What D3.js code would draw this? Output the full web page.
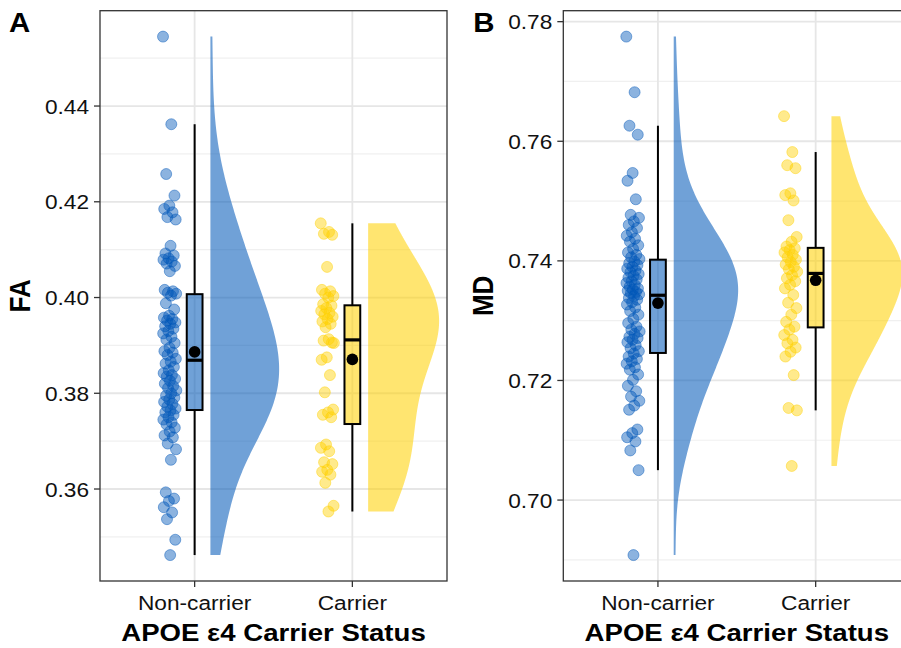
<!DOCTYPE html>
<html>
<head>
<meta charset="utf-8">
<script src="https://cdn.jsdelivr.net/npm/d3@7"></script>
<style>
  body { margin: 0; background: #fff; }
  text { font-family: "Liberation Sans", Arial, sans-serif; }
</style>
</head>
<body>
<div id="chart"></div>
<script>
// categories on the x axis
const groups = ["Non-carrier", "Carrier"];

// FA values per subject
const faNonCarrier = [
  0.4545, 0.4362, 0.4258, 0.4213, 0.4192, 0.4185, 0.4178, 0.4168, 0.4163, 0.4108,
  0.4092, 0.4088, 0.4082, 0.4079, 0.4075, 0.4071, 0.4066, 0.4055, 0.4016, 0.4013,
  0.4010, 0.4008, 0.4004,
  0.3988, 0.3975, 0.3962, 0.3958, 0.3955, 0.3952, 0.3948, 0.3945, 0.3940, 0.3935,
  0.3930, 0.3925, 0.3918, 0.3912, 0.3905,
  0.3895, 0.3888, 0.3885, 0.3880, 0.3872, 0.3866, 0.3862, 0.3855, 0.3848, 0.3842,
  0.3838, 0.3835, 0.3830, 0.3826, 0.3820, 0.3815, 0.3811, 0.3806, 0.3800,
  0.3795, 0.3791, 0.3787, 0.3782, 0.3778, 0.3772, 0.3768, 0.3764, 0.3760, 0.3755,
  0.3750, 0.3745, 0.3739, 0.3735, 0.3728, 0.3720, 0.3712, 0.3708, 0.3695, 0.3683,
  0.3661,
  0.3593, 0.3580, 0.3575, 0.3562, 0.3551, 0.3537, 0.3494, 0.3462
];
const faCarrier = [
  0.4155, 0.4137, 0.4133, 0.4131, 0.4064, 0.4016, 0.4013, 0.4008, 0.4003, 0.4000,
  0.3986, 0.3983, 0.3978, 0.3972, 0.3968, 0.3965, 0.3960, 0.3955, 0.3950, 0.3945,
  0.3938, 0.3905,
  0.3913, 0.3910, 0.3906, 0.3875, 0.3870, 0.3838, 0.3802, 0.3766, 0.3760, 0.3755,
  0.3750,
  0.3693, 0.3686, 0.3679, 0.3656, 0.3652, 0.3640, 0.3636, 0.3630, 0.3613, 0.3565,
  0.3553
];

// MD values per subject
const mdNonCarrier = [
  0.7775, 0.7682, 0.7626, 0.7611, 0.7547, 0.7534, 0.7503, 0.7477, 0.7472, 0.7466,
  0.7460, 0.7455, 0.7448, 0.7442, 0.7437, 0.7432, 0.7426, 0.7420, 0.7414, 0.7410,
  0.7406, 0.7403,
  0.7399, 0.7396, 0.7393, 0.7390, 0.7387, 0.7384, 0.7381, 0.7378, 0.7375, 0.7372,
  0.7369, 0.7366, 0.7363, 0.7360, 0.7357, 0.7354, 0.7352, 0.7350, 0.7348, 0.7346,
  0.7344,
  0.7341, 0.7338, 0.7335, 0.7331, 0.7327, 0.7322, 0.7316, 0.7310, 0.7303, 0.7296,
  0.7290, 0.7285, 0.7282, 0.7278, 0.7273, 0.7271, 0.7268, 0.7264, 0.7259, 0.7254,
  0.7249,
  0.7245, 0.7240, 0.7236, 0.7232, 0.7228, 0.7222, 0.7218, 0.7210, 0.7201, 0.7191,
  0.7182, 0.7173, 0.7166, 0.7158, 0.7151, 0.7118, 0.7112, 0.7105, 0.7098, 0.7083,
  0.7050, 0.6908
];
const mdCarrier = [
  0.7642, 0.7582, 0.7560, 0.7555, 0.7513, 0.7510, 0.7501, 0.7468, 0.7440, 0.7432,
  0.7424,
  0.7421, 0.7418, 0.7414, 0.7410, 0.7406, 0.7402, 0.7398, 0.7394, 0.7390, 0.7386,
  0.7382,
  0.7376, 0.7371, 0.7366, 0.7360, 0.7354, 0.7343, 0.7330, 0.7321, 0.7310, 0.7298,
  0.7290,
  0.7285, 0.7276, 0.7268, 0.7262, 0.7255, 0.7248, 0.7240, 0.7209, 0.7154, 0.7150,
  0.7057
];

const faTicks = [0.36, 0.38, 0.40, 0.42, 0.44];
const mdTicks = [0.70, 0.72, 0.74, 0.76, 0.78];

const colors = ["#0057B8", "#FFD100"];

const width = 901, height = 648;
const svg = d3.select("#chart").append("svg").attr("width", width).attr("height", height);

// text helper: x-stretch to mimic the wider font of the original
function addText(g, x, y, str, size, opts = {}) {
  const sx = opts.sx || 1, sy = opts.sy || 1;
  const rot = opts.rotate ? ` rotate(${opts.rotate})` : "";
  return g.append("text")
    .attr("transform", `translate(${x},${y})${rot} scale(${sx},${sy})`)
    .attr("font-size", size)
    .attr("font-weight", opts.bold ? "bold" : "normal")
    .attr("text-anchor", opts.anchor || "start")
    .attr("fill", opts.fill || "#000")
    .text(str);
}

// gaussian kde, bw.nrd0 * adjust like R, trimmed to data range
function kde(values, adjust = 1.5) {
  const n = values.length;
  const sorted = values.slice().sort(d3.ascending);
  const sd = d3.deviation(sorted);
  const iqr = d3.quantile(sorted, 0.75) - d3.quantile(sorted, 0.25);
  const bw = adjust * 0.9 * Math.min(sd, iqr / 1.34) * Math.pow(n, -0.2);
  const lo = sorted[0], hi = sorted[n - 1];
  const out = [];
  for (let k = 0; k < 512; k++) {
    const v = lo + (hi - lo) * k / 511;
    let s = 0;
    for (const xi of sorted) {
      const z = (v - xi) / bw;
      s += Math.exp(-0.5 * z * z);
    }
    out.push({ v, dens: s / (n * bw * Math.sqrt(2 * Math.PI)) });
  }
  return out;
}

function drawPanel(cfg) {
  const g = svg.append("g").attr("transform", `translate(${cfg.left}, ${cfg.top})`);
  const w = 347, h = 570.3;

  const all = cfg.series.flat();
  const [mn, mx] = d3.extent(all);
  const pad = (mx - mn) * 0.05;
  const y = d3.scaleLinear().domain([mn - pad, mx + pad]).range([h, 0]);
  const x = d3.scaleLinear().domain([0.4, 2.6]).range([0, w]);

  // minor grid
  const minor = cfg.ticks.map(t => t - 0.01).concat([cfg.ticks[cfg.ticks.length - 1] + 0.01])
    .filter(t => t > y.domain()[0] && t < y.domain()[1]);
  g.selectAll(".minor").data(minor).enter().append("line")
    .attr("x1", 0).attr("x2", w)
    .attr("y1", d => y(d)).attr("y2", d => y(d))
    .attr("stroke", "#F0F0F0").attr("stroke-width", 1.2);
  // major grid
  g.selectAll(".major").data(cfg.ticks).enter().append("line")
    .attr("x1", 0).attr("x2", w)
    .attr("y1", d => y(d)).attr("y2", d => y(d))
    .attr("stroke", "#E6E6E6").attr("stroke-width", 1.8);
  g.selectAll(".vmajor").data(groups).enter().append("line")
    .attr("x1", (d, i) => x(i + 1)).attr("x2", (d, i) => x(i + 1))
    .attr("y1", 0).attr("y2", h)
    .attr("stroke", "#E6E6E6").attr("stroke-width", 1.8);

  // half violins, area scaling across the panel
  const dens = cfg.series.map(v => kde(v));
  const maxD = d3.max(dens.flat(), d => d.dens);
  dens.forEach((dd, i) => {
    const base = i + 1 + 0.1;
    const area = d3.area()
      .y(d => y(d.v))
      .x0(x(base))
      .x1(d => x(base + 0.45 * d.dens / maxD));
    g.append("path").datum(dd)
      .attr("d", area)
      .attr("fill", colors[i]).attr("fill-opacity", 0.56);
  });

  // jittered points
  cfg.series.forEach((vals, i) => {
    g.selectAll(null).data(vals).enter().append("circle")
      .attr("cx", (d, k) => x(i + 1 - 0.158 + (((k * 0.618034) % 1) - 0.5) * 0.085))
      .attr("cy", d => y(d))
      .attr("r", 5.5)
      .attr("fill", colors[i]).attr("fill-opacity", 0.45)
      .attr("stroke", colors[i]).attr("stroke-opacity", 0.45).attr("stroke-width", 1);
  });

  // boxplots
  cfg.series.forEach((vals, i) => {
    const s = vals.slice().sort(d3.ascending);
    const q1 = d3.quantile(s, 0.25), med = d3.quantile(s, 0.5), q3 = d3.quantile(s, 0.75);
    const iqr = q3 - q1;
    const lowW = d3.min(s.filter(v => v >= q1 - 1.5 * iqr));
    const highW = d3.max(s.filter(v => v <= q3 + 1.5 * iqr));
    const cx = x(i + 1), bw = x(1.05) - x(0.95);
    g.append("line").attr("x1", cx).attr("x2", cx).attr("y1", y(highW)).attr("y2", y(q3))
      .attr("stroke", "#000").attr("stroke-width", 2);
    g.append("line").attr("x1", cx).attr("x2", cx).attr("y1", y(q1)).attr("y2", y(lowW))
      .attr("stroke", "#000").attr("stroke-width", 2);
    g.append("rect").attr("x", cx - bw / 2).attr("width", bw)
      .attr("y", y(q3)).attr("height", y(q1) - y(q3))
      .attr("fill", colors[i]).attr("fill-opacity", 0.56)
      .attr("stroke", "#000").attr("stroke-width", 2);
    g.append("line").attr("x1", cx - bw / 2).attr("x2", cx + bw / 2)
      .attr("y1", y(med)).attr("y2", y(med))
      .attr("stroke", "#000").attr("stroke-width", 3.2);
    g.append("circle").attr("cx", cx).attr("cy", y(d3.mean(vals))).attr("r", 5.8).attr("fill", "#000");
  });

  // panel border
  g.append("rect").attr("x", 0).attr("y", 0).attr("width", w).attr("height", h)
    .attr("fill", "none").attr("stroke", "#333").attr("stroke-width", 1.3);

  // y ticks
  cfg.ticks.forEach(t => {
    g.append("line").attr("x1", -6).attr("x2", 0).attr("y1", y(t)).attr("y2", y(t))
      .attr("stroke", "#333").attr("stroke-width", 1.3);
    addText(g, -11, y(t) + 7.5, t.toFixed(2), 21, { anchor: "end", sx: 1.08, fill: "#111" });
  });
  // x ticks
  groups.forEach((c, i) => {
    g.append("line").attr("x1", x(i + 1)).attr("x2", x(i + 1)).attr("y1", h).attr("y2", h + 6)
      .attr("stroke", "#333").attr("stroke-width", 1.3);
    addText(g, x(i + 1), h + 29, c, 21, { anchor: "middle", sx: 1.08, fill: "#111" });
  });

  addText(g, w / 2, h + 59.5, "APOE \u03b54 Carrier Status", 24, { anchor: "middle", bold: true, sx: 1.15 });
  addText(g, cfg.yLabelX, h / 2, cfg.yLabel, 26, { anchor: "middle", bold: true, rotate: -90, sy: 1.1 });
  addText(g, cfg.letterX, 21.6, cfg.letter, 28, { bold: true, sx: 1.05 });
}

drawPanel({ left: 100, top: 10.7, series: [faNonCarrier, faCarrier], ticks: faTicks,
  yLabel: "FA", yLabelX: -70, letter: "A", letterX: -91 });
drawPanel({ left: 563.3, top: 10.7, series: [mdNonCarrier, mdCarrier], ticks: mdTicks,
  yLabel: "MD", yLabelX: -70.5, letter: "B", letterX: -90 });
</script>
</body>
</html>
